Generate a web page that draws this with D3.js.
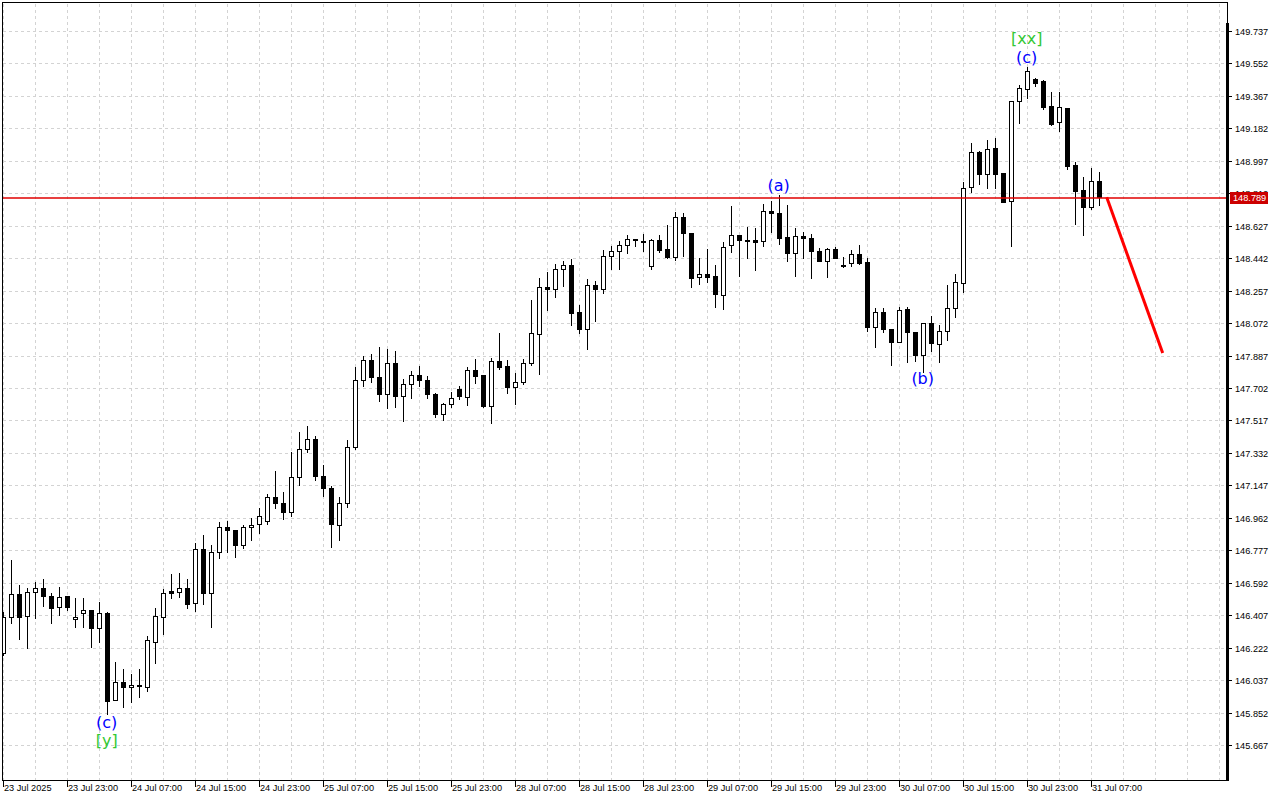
<!DOCTYPE html>
<html>
<head>
<meta charset="utf-8">
<script src="https://cdn.jsdelivr.net/npm/d3@7"></script>
<style>
html,body{margin:0;padding:0;background:#fff;}
svg{display:block;}
</style>
</head>
<body>
<svg id="chart" width="1280" height="800"></svg>
<script>
// ---------- DATA (H1 candles) ----------
const opens = [146.192,146.397,146.528,146.402,146.539,146.562,146.516,146.454,146.516,146.385,
146.420,146.437,146.334,146.420,145.924,146.026,145.998,146.009,145.998,146.254,
146.397,146.545,146.539,146.562,146.477,146.784,146.534,146.767,146.910,146.893,
146.807,146.910,146.927,146.944,147.081,147.047,146.995,147.195,147.354,147.411,
147.200,147.132,146.921,147.047,147.366,147.748,147.862,147.765,147.668,147.845,
147.657,147.725,147.776,147.748,147.668,147.554,147.611,147.696,147.651,147.805,
147.776,147.600,147.856,147.828,147.708,147.736,147.845,148.010,148.278,148.266,
148.380,148.403,148.135,148.038,148.289,148.266,148.454,148.483,148.517,148.551,
148.540,148.398,148.546,148.494,148.449,148.677,148.586,148.335,148.352,148.341,
148.232,148.517,148.574,148.546,148.546,148.540,148.711,148.700,148.563,148.472,
148.569,148.557,148.483,148.426,148.494,148.403,148.415,148.466,148.420,148.050,
148.135,148.038,147.964,148.152,148.021,147.890,148.073,147.953,148.027,148.158,
148.301,148.848,149.047,148.922,149.070,148.928,148.768,149.338,149.406,149.463,
149.452,149.310,149.218,149.298,148.973,148.831,148.734,148.882];

const highs = [146.425,146.722,146.579,146.562,146.596,146.613,146.534,146.568,146.516,146.505,
146.505,146.437,146.482,146.425,146.140,146.100,146.072,146.100,146.289,146.448,
146.556,146.642,146.648,146.613,146.819,146.864,146.807,146.938,146.944,146.893,
146.921,146.961,147.018,147.098,147.229,147.109,147.337,147.451,147.486,147.429,
147.263,147.143,147.081,147.406,147.822,147.885,147.896,147.936,147.924,147.913,
147.753,147.799,147.828,147.770,147.674,147.617,147.679,147.714,147.822,147.867,
147.776,147.873,148.016,147.862,147.788,147.867,148.204,148.329,148.363,148.409,
148.426,148.437,148.175,148.323,148.312,148.489,148.511,148.540,148.574,148.551,
148.580,148.551,148.574,148.631,148.705,148.700,148.586,148.443,148.494,148.403,
148.534,148.740,148.574,148.620,148.614,148.751,148.768,148.802,148.745,148.614,
148.591,148.580,148.500,148.500,148.506,148.449,148.489,148.517,148.443,148.158,
148.158,148.038,148.164,148.164,148.021,148.073,148.112,148.061,148.289,148.352,
148.876,149.099,149.053,149.116,149.127,148.928,149.338,149.429,149.532,149.469,
149.458,149.389,149.389,149.298,148.990,148.905,148.956,148.933];

const lows = [146.180,146.363,146.271,146.220,146.391,146.460,146.363,146.408,146.437,146.340,
146.340,146.226,146.254,145.844,145.924,145.884,145.912,145.941,145.975,146.135,
146.300,146.505,146.511,146.448,146.431,146.471,146.340,146.733,146.767,146.739,
146.790,146.836,146.876,146.927,147.018,146.955,146.973,147.149,147.337,147.178,
147.087,146.796,146.836,147.024,147.354,147.714,147.736,147.628,147.588,147.594,
147.514,147.645,147.714,147.645,147.537,147.520,147.594,147.639,147.605,147.731,
147.594,147.503,147.810,147.674,147.611,147.725,147.833,147.782,148.147,148.221,
148.284,148.061,148.016,147.924,148.084,148.244,148.380,148.380,148.472,148.511,
148.483,148.380,148.477,148.443,148.432,148.454,148.278,148.295,148.306,148.164,
148.152,148.477,148.341,148.443,148.375,148.511,148.591,148.523,148.426,148.341,
148.443,148.329,148.426,148.335,148.443,148.392,148.398,148.409,148.027,147.936,
148.021,147.833,147.964,147.850,147.856,147.793,147.913,147.850,147.976,148.107,
148.249,148.819,148.865,148.842,148.842,148.762,148.511,149.213,149.355,149.424,
149.292,149.201,149.167,148.950,148.637,148.574,148.722,148.745];

const closes = [146.397,146.528,146.397,146.539,146.562,146.516,146.448,146.511,146.454,146.397,
146.437,146.334,146.420,145.918,146.026,145.998,146.009,146.004,146.266,146.402,
146.534,146.534,146.562,146.471,146.784,146.534,146.767,146.910,146.893,146.807,
146.910,146.921,146.973,147.081,147.047,146.995,147.195,147.354,147.411,147.200,
147.132,146.927,147.047,147.366,147.748,147.862,147.765,147.668,147.845,147.657,
147.725,147.776,147.748,147.668,147.554,147.611,147.645,147.657,147.805,147.770,
147.600,147.856,147.822,147.708,147.736,147.845,148.016,148.278,148.266,148.380,
148.403,148.130,148.038,148.289,148.266,148.454,148.483,148.517,148.551,148.546,
148.534,148.546,148.489,148.449,148.677,148.586,148.329,148.352,148.335,148.238,
148.506,148.574,148.546,148.540,148.534,148.711,148.700,148.557,148.472,148.569,
148.557,148.483,148.426,148.494,148.443,148.398,148.466,148.415,148.050,148.135,
148.038,147.964,148.147,148.021,147.890,148.073,147.959,148.027,148.158,148.306,
148.842,149.047,148.922,149.064,148.922,148.762,149.338,149.412,149.509,149.441,
149.304,149.207,149.304,148.968,148.825,148.734,148.882,148.789];

const xTickLabels = ["23 Jul 2025","23 Jul 23:00","24 Jul 07:00","24 Jul 15:00","24 Jul 23:00",
"25 Jul 07:00","25 Jul 15:00","25 Jul 23:00","28 Jul 07:00","28 Jul 15:00","28 Jul 23:00",
"29 Jul 07:00","29 Jul 15:00","29 Jul 23:00","30 Jul 07:00","30 Jul 15:00","30 Jul 23:00","31 Jul 07:00"];
const barsPerXTick = 8;

const yTickValues = [145.667,145.852,146.037,146.222,146.407,146.592,146.777,146.962,147.147,
147.332,147.517,147.702,147.887,148.072,148.257,148.442,148.627,148.812,148.997,149.182,
149.367,149.552,149.737];

const currentPrice = 148.789;

// forecast arrow (bar index, price)
const forecastBars = [138, 145];
const forecastPrices = [148.789, 147.902];

// Elliott wave labels
const waveTexts  = ["(c)", "[y]", "(a)", "(b)", "[xx]", "(c)"];
const waveBars   = [13, 13, 97, 115, 128, 128];
const wavePrices = [145.764, 145.662, 148.825, 147.725, 149.663, 149.552];
const waveDegree = ["minor", "major", "minor", "minor", "major", "minor"];

// ---------- RENDER ----------
const svg = d3.select("#chart");
const plot = {left: 2, top: 3, right: 1227, bottom: 780};

const x = d3.scaleLinear().domain([0, 137]).range([2.7, 1098.7]);
const y = d3.scaleLinear().domain([145.667, 149.737]).range([745, 31]);
const R = v => Math.round(v);

svg.append("rect").attr("width", 1280).attr("height", 800).attr("fill", "#fff");

svg.append("defs").append("clipPath").attr("id", "plotclip")
  .append("rect").attr("x", plot.left).attr("y", plot.top)
  .attr("width", plot.right - plot.left).attr("height", plot.bottom - plot.top);

const gridColor = "#d3d3d3";
const grid = svg.append("g").attr("shape-rendering", "crispEdges");
grid.selectAll("line.h").data(yTickValues).join("line").attr("class", "h")
  .attr("x1", plot.left + 1).attr("x2", plot.right - 1)
  .attr("y1", d => R(y(d)) + 0.5).attr("y2", d => R(y(d)) + 0.5)
  .attr("stroke", gridColor).attr("stroke-dasharray", "3,3");
const vIdx = d3.range(0, 200, 4).filter(i => x(i) < plot.right - 2);
grid.selectAll("line.v").data(vIdx).join("line").attr("class", "v")
  .attr("x1", d => R(x(d)) + 0.5).attr("x2", d => R(x(d)) + 0.5)
  .attr("y1", plot.top + 1).attr("y2", plot.bottom)
  .attr("stroke", gridColor).attr("stroke-dasharray", "3,3");

const candles = d3.range(opens.length).map(i => ({i, o: opens[i], h: highs[i], l: lows[i], c: closes[i]}));

const cg = svg.append("g").attr("clip-path", "url(#plotclip)").attr("shape-rendering", "crispEdges");
cg.selectAll("line.wick").data(candles).join("line").attr("class", "wick")
  .attr("x1", d => R(x(d.i)) + 0.5).attr("x2", d => R(x(d.i)) + 0.5)
  .attr("y1", d => R(y(d.h))).attr("y2", d => R(y(d.l)) + 1)
  .attr("stroke", "#000").attr("stroke-width", 1);
cg.selectAll("path.body").data(candles).join("path").attr("class", "body")
  .attr("d", d => {
    const xi = R(x(d.i));
    const t = R(y(Math.max(d.o, d.c))), b = R(y(Math.min(d.o, d.c)));
    const x0 = xi - 2 + 0.5, x1 = xi + 2 + 0.5;
    return `M${x0},${t + 0.5}H${x1}V${b + 0.5}H${x0}Z`;
  })
  .attr("fill", d => d.c < d.o ? "#000" : "#fff")
  .attr("stroke", "#000").attr("stroke-width", 1);

// current price line (about 2 px, red)
const cpY = R(y(currentPrice)) + 1;
svg.append("line").attr("x1", plot.left).attr("x2", plot.right)
  .attr("y1", cpY).attr("y2", cpY).attr("stroke", "#e00000").attr("stroke-width", 1.6);

// forecast arrow
const fline = d3.line().x(d => x(d[0])).y(d => y(d[1]));
svg.append("path").datum(forecastBars.map((b, k) => [b, forecastPrices[k]]))
  .attr("d", fline).attr("fill", "none").attr("stroke", "#ff0000").attr("stroke-width", 3);

// wave labels
svg.append("g").selectAll("text").data(waveTexts).join("text")
  .attr("x", (d, k) => x(waveBars[k]))
  .attr("y", (d, k) => y(wavePrices[k]))
  .attr("text-anchor", "middle")
  .attr("font-family", "'DejaVu Sans', sans-serif").attr("font-size", 16)
  .attr("fill", (d, k) => waveDegree[k] === "minor" ? "#0000ff" : "#33c833")
  .text(d => d);

// frame
const frame = svg.append("g").attr("shape-rendering", "crispEdges");
frame.append("line").attr("x1", plot.left + 0.5).attr("x2", plot.left + 0.5)
  .attr("y1", plot.top).attr("y2", plot.bottom + 1).attr("stroke", "#000");
frame.append("line").attr("x1", plot.left).attr("x2", plot.right + 1)
  .attr("y1", plot.top - 0.5).attr("y2", plot.top - 0.5).attr("stroke", "#000");
frame.append("line").attr("x1", plot.right + 0.5).attr("x2", plot.right + 0.5)
  .attr("y1", plot.top).attr("y2", 24).attr("stroke", "#000");
frame.append("rect").attr("x", plot.right - 1).attr("y", 23).attr("width", 3)
  .attr("height", plot.bottom - 23 + 1).attr("fill", "#000");
frame.append("line").attr("x1", plot.left).attr("x2", plot.right + 1)
  .attr("y1", plot.bottom + 0.5).attr("y2", plot.bottom + 0.5).attr("stroke", "#000");

const axisFont = "'Liberation Sans', Arial, sans-serif";

// y axis
const yAxis = d3.axisRight(y).tickValues(yTickValues).tickSize(4).tickPadding(3)
  .tickFormat(d3.format(".3f"));
const yg = svg.append("g").attr("transform", `translate(${plot.right + 1},0)`).call(yAxis);
yg.select(".domain").remove();
yg.selectAll(".tick").attr("transform", d => `translate(0,${R(y(d))})`);
yg.selectAll(".tick line").attr("y1", 0.5).attr("y2", 0.5).attr("stroke", "#000").attr("shape-rendering", "crispEdges");
yg.selectAll(".tick text").attr("font-family", axisFont).attr("font-size", 9.2)
  .attr("fill", "#000").attr("y", 0.5).attr("dy", "0.35em");

// current price tag
const tag = svg.append("g");
tag.append("rect").attr("x", plot.right + 3).attr("y", R(y(currentPrice)) - 5)
  .attr("width", 38).attr("height", 12).attr("fill", "#cc0000");
tag.append("text").attr("x", plot.right + 6).attr("y", R(y(currentPrice)) + 1).attr("dy", "0.35em")
  .attr("font-family", axisFont).attr("font-size", 9.2).attr("fill", "#fff")
  .text(d3.format(".3f")(currentPrice));

// x axis
const xTickIdx = xTickLabels.map((d, k) => k * barsPerXTick);
const xAxis = d3.axisBottom(x).tickValues(xTickIdx).tickSize(6).tickPadding(2)
  .tickFormat((d, k) => xTickLabels[k]);
const xg = svg.append("g").attr("transform", `translate(0,${plot.bottom + 1})`).call(xAxis);
xg.select(".domain").remove();
xg.selectAll(".tick").attr("transform", d => `translate(${R(x(d))},0)`);
xg.selectAll(".tick line").attr("x1", 0.5).attr("x2", 0.5).attr("stroke", "#000").attr("shape-rendering", "crispEdges");
xg.selectAll(".tick text").attr("font-family", axisFont).attr("font-size", 9.2)
  .attr("fill", "#000").attr("text-anchor", "start").attr("x", 1).attr("y", 3).attr("dy", "0.71em");
</script>
</body>
</html>
